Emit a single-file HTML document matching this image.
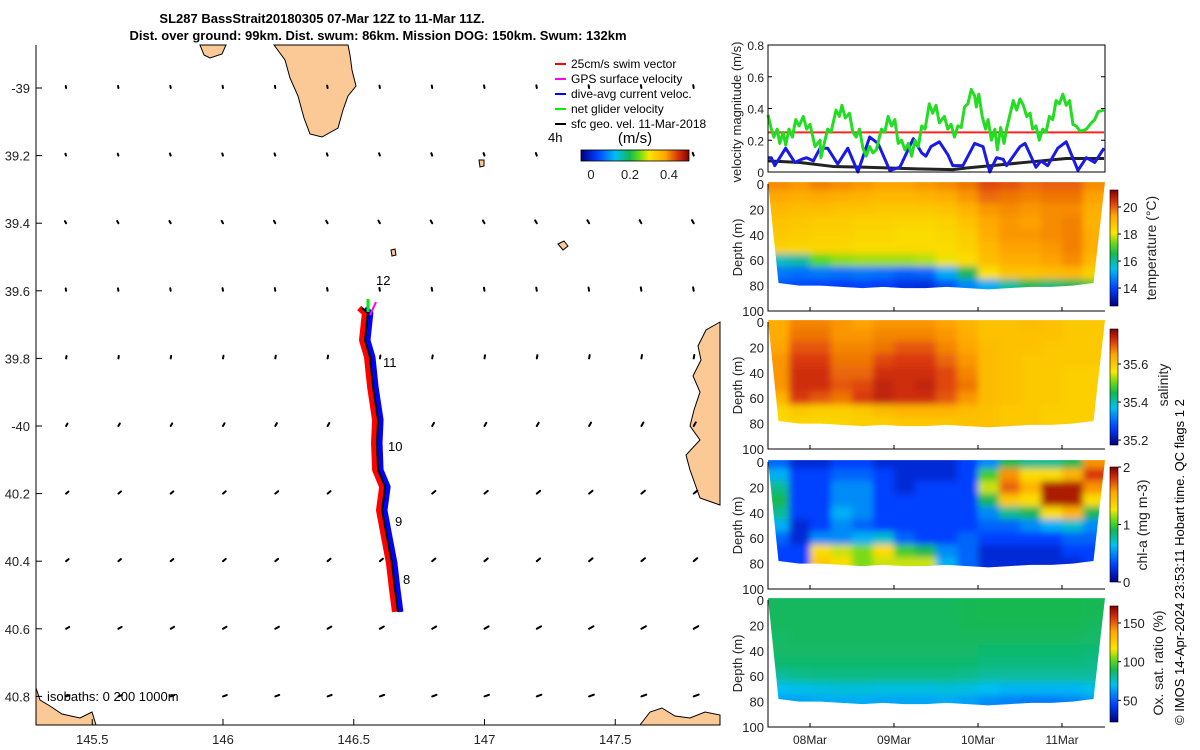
<!DOCTYPE html>
<html><head><meta charset="utf-8">
<style>
html,body{margin:0;padding:0;background:#fff;}
#root{position:relative;width:1200px;height:750px;overflow:hidden;font-family:"Liberation Sans",sans-serif;}
svg text{font-family:"Liberation Sans",sans-serif;}
</style></head>
<body>
<div id="root">
<svg id="svg" width="1200" height="750" viewBox="0 0 1200 750" xmlns="http://www.w3.org/2000/svg">
<defs>
<filter id="blur" x="-5%" y="-5%" width="110%" height="110%"><feGaussianBlur stdDeviation="3.5"/></filter>
</defs>
<text x="322" y="23" font-size="13" font-weight="bold" text-anchor="middle">SL287 BassStrait20180305 07-Mar 12Z to 11-Mar 11Z.</text>
<text x="378" y="40" font-size="13" font-weight="bold" text-anchor="middle">Dist. over ground: 99km. Dist. swum: 86km. Mission DOG: 150km. Swum: 132km</text>
<g id="map"></g>
<g id="right"></g>
<text transform="translate(1184,725) rotate(-90)" font-size="13">© IMOS 14-Apr-2024 23:53:11 Hobart time. QC flags 1  2</text>
</svg>
</div>
<script>
// ===== DATA =====
const greenDays=[7.50,7.54,7.57,7.61,7.64,7.68,7.71,7.75,7.79,7.83,7.87,7.92,7.96,8.00,8.06,8.12,8.13,8.17,8.21,8.25,8.31,8.35,8.38,8.42,8.47,8.51,8.55,8.59,8.63,8.67,8.71,8.75,8.79,8.85,8.89,8.93,8.97,9.01,9.05,9.09,9.13,9.17,9.21,9.25,9.29,9.33,9.37,9.42,9.46,9.50,9.54,9.60,9.64,9.68,9.72,9.76,9.80,9.84,9.88,9.92,9.96,9.98,10.01,10.05,10.09,10.12,10.16,10.20,10.23,10.27,10.31,10.34,10.38,10.42,10.46,10.50,10.54,10.58,10.62,10.65,10.69,10.73,10.77,10.81,10.85,10.89,10.93,10.97,11.01,11.05,11.09,11.13,11.17,11.21,11.25,11.29,11.35,11.39,11.43,11.50];
const greenVals=[.36,.27,.22,.27,.18,.25,.17,.27,.22,.33,.29,.35,.27,.30,.16,.20,.09,.18,.27,.25,.39,.35,.42,.34,.37,.25,.22,.27,.15,.10,.16,.12,.14,.27,.25,.35,.29,.33,.18,.20,.14,.18,.10,.20,.16,.29,.27,.43,.37,.42,.31,.35,.27,.30,.22,.29,.28,.41,.43,.52,.48,.41,.49,.35,.27,.33,.20,.27,.14,.28,.18,.27,.36,.45,.39,.46,.42,.35,.37,.27,.29,.20,.27,.25,.35,.33,.45,.43,.49,.42,.45,.30,.29,.26,.26,.27,.31,.33,.38,.39];
const blueDays=[7.50,7.54,7.58,7.64,7.71,7.82,7.90,7.96,8.04,8.12,8.21,8.33,8.45,8.57,8.71,8.81,8.95,9.07,9.23,9.33,9.38,9.44,9.54,9.64,9.70,9.82,9.96,10.06,10.14,10.22,10.30,10.34,10.50,10.56,10.69,10.75,10.83,10.95,11.05,11.19,11.29,11.39,11.50];
const blueVals=[.09,.09,.04,.09,.15,.06,.08,.09,.07,.15,.15,.05,.15,.00,.22,.18,.01,.03,.21,.12,.10,.16,.19,.11,.04,.04,.18,.16,.00,.09,.08,.04,.16,.18,.03,.07,.04,.15,.19,.01,.09,.06,.15];
const blackDays=[7.50,7.88,8.27,8.67,9.27,9.70,9.86,10.26,10.65,11.05,11.50];
const blackVals=[.07,.06,.035,.03,.02,.015,.025,.045,.065,.085,.085];
const swimSpeed=[0.25,0.25];
const velTicks=[0,0.2,0.4,0.6,0.8];
const dateTicks=[8,9,10,11];
const dateLabels=["08Mar","09Mar","10Mar","11Mar"];
const colDays=[7.625,7.875,8.125,8.375,8.625,8.875,9.125,9.375,9.625,9.875,10.125,10.375,10.625,10.875,11.125,11.375];
const depthLevels=[0,10,20,30,40,50,60,70,80];
const bottomDepth=[78,80,80,81,82,81,82,82,81,82,83,82,81,81,80,78];
const tempData=[
[19.6,19.3,19.0,18.8,18.7,18.5,15.8,14.6,14.2],
[19.5,19.2,18.9,18.7,18.6,18.4,16.0,14.5,14.1],
[19.7,19.3,18.9,18.6,18.5,18.4,17.2,14.6,14.0],
[19.6,19.2,18.8,18.6,18.5,18.4,17.5,14.5,13.9],
[19.5,19.1,18.8,18.5,18.4,18.3,17.6,14.6,14.0],
[19.4,19.0,18.7,18.5,18.4,18.3,17.6,14.5,13.9],
[19.4,19.0,18.7,18.4,18.3,18.3,17.6,14.3,13.7],
[19.5,19.1,18.7,18.4,18.3,18.3,17.7,14.4,13.6],
[19.6,19.2,18.8,18.5,18.4,18.3,18.0,15.2,14.2],
[19.8,19.5,19.1,18.8,18.6,18.5,18.3,16.5,14.8],
[20.2,19.9,19.5,19.3,19.2,19.0,18.9,18.2,15.2],
[20.1,19.8,19.6,19.5,19.5,19.4,19.2,18.8,16.0],
[19.9,19.7,19.5,19.4,19.5,19.4,19.2,18.8,16.5],
[20.0,19.8,19.6,19.6,19.6,19.5,19.4,18.9,16.3],
[20.0,19.8,19.6,19.7,19.7,19.7,19.6,19.0,16.5],
[19.6,19.4,19.2,19.1,19.2,19.2,19.0,18.5,17.0]];
const salData=[
[35.64,35.64,35.65,35.66,35.66,35.66,35.63,35.58,35.58],
[35.67,35.68,35.70,35.72,35.73,35.73,35.72,35.60,35.58],
[35.67,35.68,35.70,35.72,35.73,35.73,35.70,35.59,35.58],
[35.66,35.66,35.67,35.68,35.69,35.70,35.68,35.59,35.58],
[35.65,35.66,35.67,35.68,35.69,35.71,35.72,35.60,35.59],
[35.66,35.67,35.68,35.71,35.73,35.74,35.74,35.62,35.59],
[35.66,35.67,35.70,35.72,35.73,35.73,35.73,35.63,35.60],
[35.66,35.67,35.70,35.72,35.73,35.74,35.73,35.63,35.60],
[35.65,35.66,35.67,35.69,35.71,35.71,35.70,35.63,35.60],
[35.63,35.64,35.65,35.66,35.67,35.68,35.66,35.62,35.61],
[35.61,35.61,35.62,35.62,35.62,35.62,35.62,35.61,35.61],
[35.61,35.61,35.61,35.61,35.61,35.61,35.61,35.60,35.60],
[35.62,35.61,35.61,35.60,35.60,35.60,35.60,35.60,35.60],
[35.61,35.61,35.60,35.60,35.60,35.60,35.60,35.59,35.59],
[35.60,35.60,35.60,35.60,35.59,35.59,35.59,35.59,35.59],
[35.60,35.60,35.60,35.60,35.59,35.59,35.59,35.59,35.59]];
const chlData=[
[0.4,0.6,0.8,0.9,0.8,0.6,0.4,0.3,0.3],
[0.2,0.3,0.3,0.3,0.3,0.2,0.2,0.3,0.3],
[0.2,0.3,0.3,0.3,0.3,0.3,0.5,1.3,1.4],
[0.3,0.4,0.5,0.5,0.6,0.5,0.5,1.2,1.3],
[0.3,0.4,0.5,0.5,0.5,0.4,0.6,1.1,1.1],
[0.2,0.3,0.3,0.3,0.3,0.3,0.7,1.3,1.2],
[0.2,0.2,0.2,0.3,0.3,0.3,0.4,1.0,1.2],
[0.2,0.2,0.3,0.3,0.3,0.3,0.3,0.9,1.2],
[0.2,0.2,0.3,0.3,0.3,0.3,0.3,0.5,0.6],
[0.3,0.3,0.3,0.3,0.3,0.3,0.4,0.4,0.4],
[0.5,1.0,1.2,0.9,0.5,0.4,0.3,0.2,0.2],
[0.9,1.6,1.7,1.4,0.8,0.4,0.3,0.2,0.2],
[0.8,1.3,1.5,1.3,0.9,0.5,0.3,0.2,0.2],
[0.8,1.3,1.9,1.9,1.3,0.6,0.3,0.2,0.2],
[0.9,1.5,1.9,1.9,1.5,0.7,0.4,0.3,0.2],
[1.6,1.8,1.6,1.3,0.9,0.5,0.4,0.3,0.3]];
const oxData=[
[88,88,88,87,87,86,80,70,64],
[88,88,88,88,87,86,82,71,64],
[88,88,88,88,87,86,83,72,66],
[88,88,88,88,87,86,83,73,66],
[88,88,88,88,87,86,83,73,66],
[88,88,88,88,87,86,83,72,65],
[88,88,88,88,87,86,83,72,65],
[88,88,88,88,87,86,83,72,65],
[88,88,88,88,87,86,83,73,66],
[89,89,89,88,87,86,82,72,64],
[90,90,89,88,86,84,80,70,60],
[90,90,89,88,86,84,80,68,58],
[90,90,89,88,86,84,80,68,56],
[90,90,89,88,86,84,80,68,56],
[90,90,89,88,86,84,80,68,58],
[89,89,88,87,85,83,80,71,62]];
const tempTicks=[14,16,18,20], salTicks=[35.2,35.4,35.6], chlTicks=[0,1,2], oxTicks=[50,100,150];
const depthTicks=[0,20,40,60,80,100];
const trackLon=[146.532,146.554,146.543,146.562,146.574,146.593,146.589,146.593,146.620,146.608,146.627,146.646,146.658,146.669];
const trackLat=[-39.651,-39.666,-39.746,-39.796,-39.885,-39.982,-40.050,-40.130,-40.180,-40.249,-40.328,-40.405,-40.485,-40.550];
const lonTicks=[145.5,146,146.5,147,147.5];
const lonLabels=["145.5","146","146.5","147","147.5"];
const latTicks=[-39,-39.2,-39.4,-39.6,-39.8,-40,-40.2,-40.4,-40.6,-40.8];
const latLabels=["-39","39.2","39.4","39.6","39.8","-40","40.2","40.4","40.6","40.8"];
const gridLons=[145.4,145.6,145.8,146.0,146.2,146.4,146.6,146.8,147.0,147.2,147.4,147.6,147.8];
const gridLats=[-39,-39.2,-39.4,-39.6,-39.8,-40,-40.2,-40.4,-40.6,-40.8];
const rowAngles=[100,110,120,100,80,60,40,40,30,20];
const rowSpeeds=[0.025,0.025,0.03,0.03,0.03,0.035,0.04,0.04,0.045,0.045];

// ===== helpers =====
const NS="http://www.w3.org/2000/svg";
function mk(parent,tag,attrs){const e=document.createElementNS(NS,tag);for(const k in attrs)e.setAttribute(k,attrs[k]);parent.appendChild(e);return e;}
const stops=[[0,0,0,0.5],[0.15,0,0.25,1],[0.32,0,0.75,0.95],[0.45,0.08,0.72,0.32],[0.53,0.35,0.85,0.1],[0.63,0.98,0.9,0],[0.78,1,0.65,0],[0.9,0.85,0.2,0.05],[1,0.5,0,0]];
function cmap(f){f=Math.max(0,Math.min(1,f));for(let i=1;i<stops.length;i++){if(f<=stops[i][0]){const a=stops[i-1],b=stops[i],t=(f-a[0])/(b[0]-a[0]);const c=[1,2,3].map(j=>Math.round(255*(a[j]+(b[j]-a[j])*t)));return `rgb(${c[0]},${c[1]},${c[2]})`;}}return "rgb(128,0,0)";}
const defs=document.querySelector('defs');
const gv=mk(defs,'linearGradient',{id:'cbv',x1:0,y1:1,x2:0,y2:0});
stops.forEach(s=>{mk(gv,'stop',{offset:s[0],'stop-color':cmap(s[0])});});
const gh=mk(defs,'linearGradient',{id:'cbh',x1:0,y1:0,x2:1,y2:0});
stops.forEach(s=>{mk(gh,'stop',{offset:s[0],'stop-color':cmap(s[0])});});

// ===== MAP =====
const map=document.getElementById('map');
const lonX=l=>223+(l-146)*261.5;
const latY=l=>88+(-39-l)*338;
const land="#fbc995";
const coasts=[
"M274,45 L285,60 L290,78 L298,96 L304,118 L310,134 L322,137 L338,128 L343,110 L348,96 L356,86 L352,70 L350,55 L348,45 Z",
"M200,45 L226,45 L222,54 L210,58 L204,55 Z",
"M720,322 L706,330 L698,346 L701,360 L693,376 L700,392 L694,410 L690,426 L700,440 L686,455 L690,470 L700,498 L720,505 Z",
"M558,244 L564,241 L568,246 L563,250 Z",
"M36,688 L40,700 L50,706 L62,714 L80,718 L92,712 L96,725 L36,725 Z",
"M640,725 L650,712 L662,708 L675,716 L690,718 L705,712 L720,715 L720,725 Z",
"M479,160 L484,160 L484,166 L480,167 Z",
"M391,250 L395,249 L396,255 L392,256 Z"];
coasts.forEach((d,i)=>{const p=mk(map,'path',{d:d,fill:land,stroke:'#000','stroke-width':1});

});
gridLats.forEach((la,r)=>{gridLons.forEach((lo,c)=>{
 const x=lonX(lo),y=latY(la);const a=rowAngles[r]*Math.PI/180;const L=rowSpeeds[r]*80*(1+c*0.04);
 const ln=mk(map,'line',{x1:x,y1:y,x2:x+L*Math.cos(a),y2:y-L*Math.sin(a),stroke:'#000','stroke-width':2,'stroke-linecap':'round'});
 
 
});});
const pts=trackLon.map((l,i)=>lonX(l)+','+latY(trackLat[i])).join(' ');
const tr=mk(map,'polyline',{points:pts,fill:'none',stroke:'#f00','stroke-width':6,transform:'translate(-3,0)','stroke-linejoin':'round'});


const tb=mk(map,'polyline',{points:pts,fill:'none',stroke:'#00f','stroke-width':5,transform:'translate(3,0)','stroke-linejoin':'round'});


const tk=mk(map,'polyline',{points:pts,fill:'none',stroke:'#000','stroke-width':2});


const ga=mk(map,'line',{x1:368,y1:312,x2:368,y2:299,stroke:'#0e0','stroke-width':3});


const ma=mk(map,'line',{x1:370,y1:315,x2:376,y2:302,stroke:'#f0f','stroke-width':2});


[["12",376,285],["11",383,367],["10",388,451],["9",395,526],["8",403,584]].forEach(d=>{
 const t=mk(map,'text',{x:d[1],y:d[2],'font-size':13});t.textContent=d[0];
 
 });
const ax=mk(map,'path',{d:'M36,45 L36,725 L720,725',fill:'none',stroke:'#000','stroke-width':1});


lonTicks.forEach((l,i)=>{const x=lonX(l);
 const tk=mk(map,'line',{x1:x,y1:725,x2:x,y2:719,stroke:'#000'});
 
 
 const t=mk(map,'text',{x:x,y:744,'font-size':13,'text-anchor':'middle',fill:'#222'});t.textContent=lonLabels[i];
 
 });
latTicks.forEach((l,i)=>{const y=latY(l);
 const tk=mk(map,'line',{x1:36,y1:y,x2:42,y2:y,stroke:'#000'});
 
 
 const t=mk(map,'text',{x:30,y:y+5,'font-size':13,'text-anchor':'end',fill:'#222'});t.textContent=latLabels[i];
 
 });
const iso=mk(map,'text',{x:47,y:701,'font-size':13});iso.textContent='isobaths: 0   200  1000m';


const legItems=[["25cm/s swim vector","#f00"],["GPS surface velocity","#f0f"],["dive-avg current veloc.","#00f"],["net glider velocity","#0e0"],["sfc geo. vel. 11-Mar-2018","#000"]];
legItems.forEach((it,i)=>{const y=64+i*15;
 const l=mk(map,'line',{x1:555,y1:y,x2:566,y2:y,stroke:it[1],'stroke-width':2});
 
 
 const t=mk(map,'text',{x:571,y:y+4,'font-size':12});t.textContent=it[0];
 
 });
const h4=mk(map,'text',{x:548,y:142,'font-size':13});h4.textContent='4h';


const ms=mk(map,'text',{x:635,y:143,'font-size':15,'text-anchor':'middle'});ms.textContent='(m/s)';


const cbm=mk(map,'rect',{x:581,y:150,width:108,height:11,fill:'url(#cbh)',stroke:'#000','stroke-width':0.8});


[[0,591],[0.2,630],[0.4,669]].forEach(d=>{const t=mk(map,'text',{x:d[1],y:179,'font-size':13,'text-anchor':'middle',fill:'#222'});t.textContent=String(d[0]);
 
 });

// ===== RIGHT PANELS =====
const R=document.getElementById('right');
const X0=768,X1=1105;
const dayX=d=>810+(d-8)*84;
const vy=v=>172-v*158.75;
function vline(days,vals,col,w,name){const p=mk(R,'polyline',{points:days.map((d,i)=>dayX(d)+','+vy(vals[i])).join(' '),fill:'none',stroke:col,'stroke-width':w,'stroke-linejoin':'round'});
 
 }
vline([7.5,11.5],swimSpeed,'#f22',2,'swim-speed-line');
vline(blackDays,blackVals,'#222',3,'geostrophic-speed-line');
vline(blueDays,blueVals,'#1a1ae6',3,'dive-avg-speed-line');
vline(greenDays,greenVals,'#22dd22',3,'net-glider-speed-line');
const vb=mk(R,'rect',{x:X0,y:45,width:X1-X0,height:127,fill:'none',stroke:'#000'});


velTicks.forEach(v=>{const y=vy(v);
 const t=mk(R,'text',{x:764,y:y+5,'font-size':12,'text-anchor':'end',fill:'#222'});t.textContent=String(v);
 
 
 const a=mk(R,'line',{x1:X0,y1:y,x2:X0+4,y2:y,stroke:'#000'});
 
 
 const b=mk(R,'line',{x1:X1,y1:y,x2:X1-4,y2:y,stroke:'#000'});
 
 });
const vl=mk(R,'text',{transform:'translate(741,112) rotate(-90)','font-size':13,'text-anchor':'middle',fill:'#222'});vl.textContent='velocity magnitude (m/s)';



const panels=[
 {top:184,data:tempData,min:12.67,max:21.26,ticks:tempTicks,cbT:190,cbB:306,label:'temperature (°C)',lx:1156,ly:248,name:'temperature'},
 {top:322,data:salData,min:35.174,max:35.784,ticks:salTicks,cbT:329,cbB:445,label:'salinity',lx:1168,ly:385,name:'salinity'},
 {top:462,data:chlData,min:0,max:2,ticks:chlTicks,cbT:467,cbB:582,label:'chl-a (mg m-3)',lx:1147,ly:525,name:'chlorophyll'},
 {top:600,data:oxData,min:22,max:172,ticks:oxTicks,cbT:606,cbB:722,label:'Ox. sat. ratio (%)',lx:1163,ly:663,name:'oxygen'}];
const cw=84*0.25;
panels.forEach((P,pi)=>{
 const dy=d=>P.top+d*1.27;
 const cp=mk(defs,'clipPath',{id:'clip'+pi});
 let d='M'+X0+','+dy(-1.5)+' L'+X1+','+dy(-1.5);
 for(let i=colDays.length-1;i>=0;i--){d+=' L'+Math.min(X1,Math.max(X0,dayX(colDays[i])))+','+dy(bottomDepth[i]);}
 d+=' Z';
 mk(cp,'path',{d:d});
 const outer=mk(R,'g',{'clip-path':'url(#clip'+pi+')'});
 
 
 const inner=mk(outer,'g',{filter:'url(#blur)'});
 P.data.forEach((col,ci)=>{const x=dayX(colDays[ci])-cw/2;
  col.forEach((v,ri)=>{const d0=ri===0?-15:depthLevels[ri]-5;const d1=ri===col.length-1?95:depthLevels[ri]+5;
   const r=mk(inner,'rect',{x:ci===0?x-15:x,y:dy(d0),width:(ci===0||ci===colDays.length-1)?cw+15:cw+0.5,height:dy(d1)-dy(d0)+0.5,fill:cmap((v-P.min)/(P.max-P.min))});
   
   
  });});
 const box=mk(R,'path',{d:`M${X0},${dy(0)} L${X0},${dy(100)} L${X1},${dy(100)}`,fill:'none',stroke:'#000'});
 
 
 depthTicks.forEach(t=>{const y=dy(t);
  const tx=mk(R,'text',{x:764,y:y+5,'font-size':13,'text-anchor':'end',fill:'#222'});tx.textContent=String(t);
  
  });
 dateTicks.forEach(dd=>{const x=dayX(dd);
  const tk=mk(R,'line',{x1:x,y1:dy(100),x2:x,y2:dy(100)-4,stroke:'#000'});
  
  });
 const yl=mk(R,'text',{transform:`translate(742,${dy(50)}) rotate(-90)`,'font-size':13,'text-anchor':'middle',fill:'#222'});yl.textContent='Depth (m)';
 
 
 const cb=mk(R,'rect',{x:1110,y:P.cbT,width:8,height:P.cbB-P.cbT,fill:'url(#cbv)',stroke:'#000','stroke-width':0.6});
 
 
 P.ticks.forEach(t=>{const y=P.cbB-(t-P.min)/(P.max-P.min)*(P.cbB-P.cbT);
  const l=mk(R,'line',{x1:1118,y1:y,x2:1121,y2:y,stroke:'#000'});
  
  
  const tx=mk(R,'text',{x:1123,y:y+5,'font-size':13,fill:'#222'});tx.textContent=String(t);
  
  });
 const lb=mk(R,'text',{transform:`translate(${P.lx},${P.ly}) rotate(-90)`,'font-size':14,'text-anchor':'middle',fill:'#222'});lb.textContent=P.label;
 
 
});
dateTicks.forEach((dd,i)=>{const t=mk(R,'text',{x:dayX(dd),y:744,'font-size':12,'text-anchor':'middle',fill:'#222'});t.textContent=dateLabels[i];
 
 });
</script>
</body></html>
